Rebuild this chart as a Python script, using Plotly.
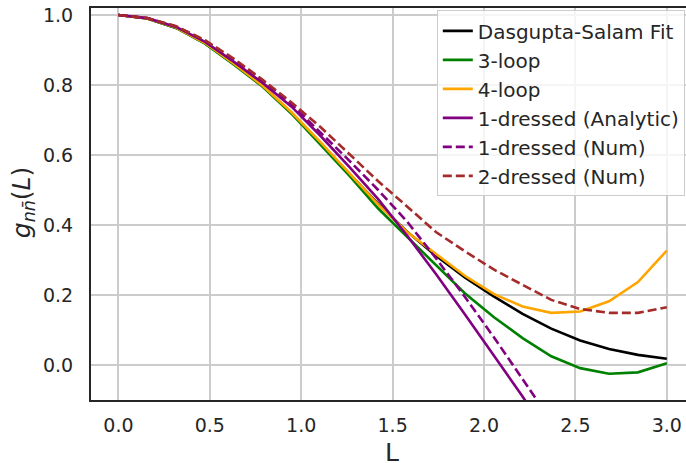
import plotly.graph_objects as go

# ---- data ----
L_vals = [0.0, 0.158, 0.316, 0.474, 0.632, 0.789, 0.947, 1.105, 1.263, 1.421,
          1.579, 1.737, 1.895, 2.053, 2.211, 2.368, 2.526, 2.684, 2.842, 3.0]

ds_fit = [1.0, 0.99, 0.963, 0.919, 0.86, 0.797, 0.72, 0.635, 0.547, 0.46,
          0.381, 0.312, 0.25, 0.196, 0.146, 0.104, 0.07, 0.046, 0.029, 0.018]
loop3 = [1.0, 0.99, 0.963, 0.918, 0.858, 0.795, 0.718, 0.628, 0.541, 0.447,
         0.366, 0.287, 0.205, 0.137, 0.077, 0.025, -0.009, -0.025, -0.021, 0.005]
loop4 = [1.0, 0.99, 0.964, 0.92, 0.861, 0.798, 0.722, 0.637, 0.548, 0.458,
         0.38, 0.318, 0.255, 0.203, 0.167, 0.149, 0.153, 0.182, 0.237, 0.327]
dressed1_an = [1.0, 0.991, 0.966, 0.923, 0.866, 0.806, 0.738, 0.655, 0.566, 0.474,
               0.37, 0.26, 0.145, 0.028, -0.09, -0.215]
dressed1_num = [1.0, 0.991, 0.967, 0.926, 0.872, 0.813, 0.745, 0.665, 0.584, 0.5,
                0.41, 0.305, 0.195, 0.08, -0.038, -0.16]
dressed2_num = [1.0, 0.991, 0.968, 0.928, 0.875, 0.815, 0.75, 0.68, 0.603, 0.525,
                0.453, 0.38, 0.325, 0.273, 0.229, 0.186, 0.16, 0.149, 0.149, 0.165]

x_ticks = [0.0, 0.5, 1.0, 1.5, 2.0, 2.5, 3.0]
y_ticks = [0.0, 0.2, 0.4, 0.6, 0.8, 1.0]

series = [
    ("Dasgupta-Salam Fit", ds_fit, "black", "solid"),
    ("3-loop", loop3, "green", "solid"),
    ("4-loop", loop4, "orange", "solid"),
    ("1-dressed (Analytic)", dressed1_an, "purple", "solid"),
    ("1-dressed (Num)", dressed1_num, "purple", "9px,4px"),
    ("2-dressed (Num)", dressed2_num, "brown", "9px,4px"),
]

fig = go.Figure()
for name, vals, color, dash in series:
    fig.add_trace(go.Scatter(
        x=L_vals[:len(vals)], y=vals, mode="lines", name=name,
        line=dict(color=color, width=2.6, dash=dash),
    ))

font = "DejaVu Sans, sans-serif"
axis_common = dict(
    showgrid=True, gridcolor="#cccccc", gridwidth=1.5,
    showline=True, linecolor="#262626", linewidth=2,
    zeroline=False, ticks="outside", tickcolor="rgba(0,0,0,0)",
    tickfont=dict(family=font, size=19, color="#262626"),
    automargin=False,
)

fig.update_layout(
    width=686, height=463,
    margin=dict(l=91, r=0, t=8, b=63),
    paper_bgcolor="white", plot_bgcolor="white",
    font=dict(family=font, color="#262626"),
    xaxis=dict(range=[-0.15, 3.105], tickvals=x_ticks, ticklen=7,
               ticktext=[f"{v:.1f}" for v in x_ticks], mirror=True, **axis_common),
    yaxis=dict(range=[-0.1, 1.02], tickvals=y_ticks, ticklen=12,
               ticktext=[f"{v:.1f}" for v in y_ticks], mirror=False, **axis_common),
    legend=dict(
        x=0.998, y=0.994, xanchor="right", yanchor="top",
        bgcolor="rgba(255,255,255,0.8)", bordercolor="#cccccc", borderwidth=1,
        font=dict(family=font, size=20, color="#262626"),
    ),
    showlegend=True,
)

fig.add_annotation(
    x=0.506, y=-0.092, xref="paper", yref="paper",
    xanchor="center", yanchor="top", showarrow=False,
    text="L", font=dict(family=font, size=25, color="#262626"),
)
fig.add_annotation(
    x=-0.114, y=0.505, xref="paper", yref="paper",
    xanchor="center", yanchor="middle", showarrow=False, textangle=-90,
    text="<i>g</i><sub><i>nn\u0304</i></sub>(<i>L</i>)",
    font=dict(family=font, size=25, color="#262626"),
)

fig.write_html(
    "out.html",
    config={"displayModeBar": False},
    post_script="document.body.style.margin='0';document.body.style.overflow='hidden';",
)
